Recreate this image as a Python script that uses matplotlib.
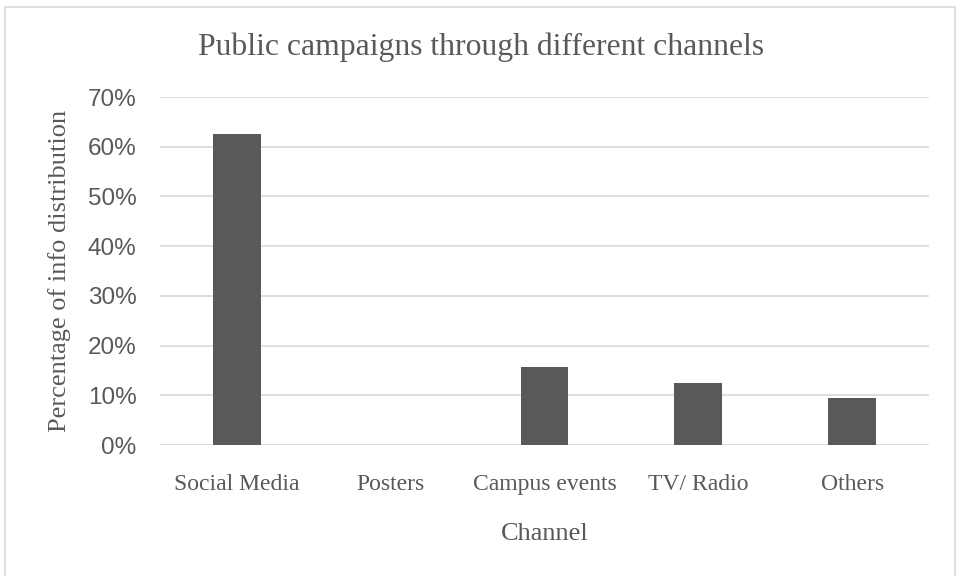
import matplotlib.pyplot as plt
from matplotlib.patches import Rectangle
from matplotlib.ticker import FuncFormatter

channels = ['Social Media', 'Posters', 'Campus events', 'TV/ Radio', 'Others']
shares = [0.625, 0.0, 0.156, 0.125, 0.094]
yticks = [0.0, 0.1, 0.2, 0.3, 0.4, 0.5, 0.6, 0.7]

serif = ['Liberation Serif', 'DejaVu Serif']
sans = ['Liberation Sans', 'DejaVu Sans']
grey = '#595959'

fig = plt.figure(figsize=(9.6, 5.76), dpi=100)
ax = fig.add_axes([160 / 960, 1 - 445 / 576, (929 - 160) / 960, (445 - 97) / 576])

# chart border like the office chart frame
fig.patches.append(Rectangle((5 / 960, -0.01), 950 / 960, 1 - 7 / 576 + 0.01,
                             transform=fig.transFigure, fill=False,
                             edgecolor='#d9d9d9', linewidth=1.2))

x = range(len(channels))
ax.bar(x, shares, width=0.31, color=grey, zorder=3)
ax.set_xlim(-0.5, len(channels) - 0.5)
ax.set_ylim(0, 0.7)
ax.set_yticks(yticks)
ax.yaxis.set_major_formatter(FuncFormatter(lambda v, p: f'{v * 100:.0f}%'))
ax.grid(axis='y', color='#d9d9d9', linewidth=1.2, zorder=0)
for s in ax.spines.values():
    s.set_visible(False)
ax.tick_params(length=0)
ax.tick_params(axis='y', pad=17, labelsize=17.5, labelcolor=grey)
ax.tick_params(axis='x', pad=21, labelcolor=grey)
ax.set_xticks(list(x))
ax.set_xticklabels(channels, fontfamily=serif, fontsize=17)
for lab in ax.get_yticklabels():
    lab.set_fontfamily(sans)

ax.set_xlabel('Channel', fontfamily=serif, fontsize=19, color=grey, labelpad=20)
ax.set_ylabel('Percentage of info distribution', fontfamily=serif, fontsize=19,
              color=grey, labelpad=12)
fig.text(0.501, 1 - 47 / 576, 'Public campaigns through different channels',
         fontfamily=serif, fontsize=22.8, color=grey, ha='center', va='center')

fig.savefig('out.png', dpi=100)
